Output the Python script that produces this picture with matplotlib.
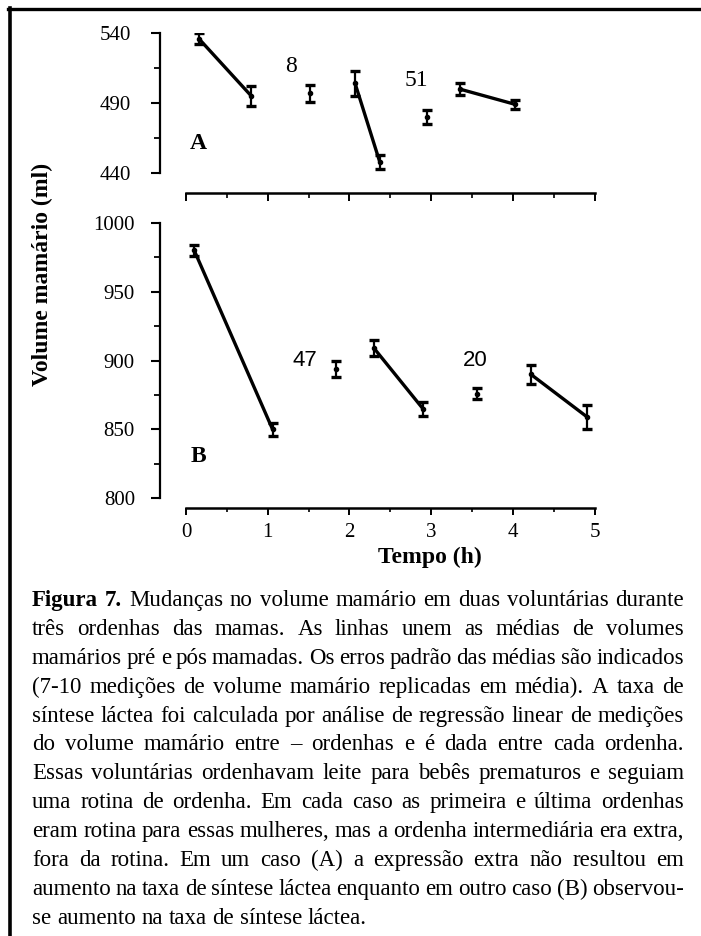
import matplotlib
matplotlib.use("Agg")
import matplotlib.pyplot as plt
from matplotlib.lines import Line2D

# volunteer A: mean breast volume (ml) and standard error at each measurement time (h)
time_a = [0.16, 0.80, 1.52, 2.07, 2.37, 2.95, 3.35, 4.03]
vol_a = [536, 495, 497, 504, 448, 480, 500, 489]
err_a = [4, 7, 6, 9, 5, 5, 4, 3]

# volunteer B
time_b = [0.10, 1.06, 1.84, 2.30, 2.90, 3.56, 4.22, 4.91]
vol_b = [980, 850, 894, 909, 865, 876, 890, 859]
err_b = [4, 5, 6, 6, 5, 4, 7, 9]

# pre/post feed pairs joined by a line
feeds = [(0, 1), (3, 4), (6, 7)]

# y ticks for each panel
yticks_a = [440, 490, 540]
yminor_a = [465, 515]
yticks_b = [800, 850, 900, 950, 1000]
yminor_b = [825, 875, 925, 975]
xticks = [0, 1, 2, 3, 4, 5]
xminor = [0.5, 1.5, 2.5, 3.5, 4.5]

# synthesis rate between expressions (ml/h) and where it is written
rates_a = ["8", "51"]
rate_pos_a = [(1.29, 516), (2.82, 506)]
rates_b = ["47", "20"]
rate_pos_b = [(1.46, 900), (3.54, 900)]

caption = [
    "Figura 7. Mudanças no volume mamário em duas voluntárias durante",
    "três ordenhas das mamas. As linhas unem as médias de volumes",
    "mamários pré e pós mamadas. Os erros padrão das médias são indicados",
    "(7-10 medições de volume mamário replicadas em média). A taxa de",
    "síntese láctea foi calculada por análise de regressão linear de medições",
    "do volume mamário entre – ordenhas e é dada entre cada ordenha.",
    "Essas voluntárias ordenhavam leite para bebês prematuros e seguiam",
    "uma rotina de ordenha. Em cada caso as primeira e última ordenhas",
    "eram rotina para essas mulheres, mas a ordenha intermediária era extra,",
    "fora da rotina. Em um caso (A) a expressão extra não resultou em",
    "aumento na taxa de síntese láctea enquanto em outro caso (B) observou-",
    "se aumento na taxa de síntese láctea.",
]

SERIF = "Liberation Serif"
SANS = "Liberation Sans"
W, H = 701, 936

fig = plt.figure(figsize=(W / 100, H / 100), dpi=100)
fig.patch.set_facecolor("white")


def box(left, top, right, bottom):
    return [left / W, 1 - bottom / H, (right - left) / W, (bottom - top) / H]


def fpos(x, y):
    return x / W, 1 - y / H


ax_a = fig.add_axes(box(160, 33.3, 598.6, 172.7))
ax_b = fig.add_axes(box(160, 222.7, 598.6, 498.3))


def style_axis(ax, ylim, major, minor, drop, ypad):
    ax.set_xlim(-0.318, 5.05)
    ax.set_ylim(*ylim)
    ax.patch.set_visible(False)
    for s in ("top", "right"):
        ax.spines[s].set_visible(False)
    ax.spines["left"].set_linewidth(1.6)
    ax.spines["bottom"].set_linewidth(1.8)
    ax.spines["bottom"].set_position(("outward", drop))
    ax.spines["bottom"].set_bounds(0, 5)
    ax.set_yticks(major)
    ax.set_yticks(minor, minor=True)
    ax.set_xticks(xticks)
    ax.set_xticks(xminor, minor=True)
    ax.tick_params(axis="y", which="major", direction="out", length=6.5, width=1.5,
                   pad=ypad, labelsize=15)
    ax.tick_params(axis="y", which="minor", direction="out", length=4, width=1.3)
    for lab in ax.get_yticklabels():
        lab.set_fontfamily(SERIF)


def draw_series(ax, t, v, e):
    ax.errorbar(t, v, yerr=e, fmt="o", ms=3, color="k", ecolor="k",
                elinewidth=1.6, capsize=3.4, capthick=2.4)
    for i, j in feeds:
        ax.plot([t[i], t[j]], [v[i], v[j]], color="k", lw=2.4, solid_capstyle="round")


# panel A
style_axis(ax_a, (440, 540), yticks_a, yminor_a, 14.4, 14.5)
ax_a.tick_params(axis="x", which="major", direction="out", length=5.8, width=1.4,
                 labelbottom=False)
ax_a.tick_params(axis="x", which="minor", direction="out", length=3.6, width=1.2)
draw_series(ax_a, time_a, vol_a, err_a)
for txt, (x, y) in zip(rates_a, rate_pos_a):
    ax_a.text(x, y, txt, ha="center", va="center", fontsize=17, family=SERIF)
ax_a.text(0.15, 461, "A", ha="center", va="center", fontsize=17, family=SERIF,
          fontweight="bold")

# panel B
style_axis(ax_b, (800, 1000), yticks_b, yminor_b, 7.2, 11.5)
ax_b.tick_params(axis="x", which="major", direction="out", length=4.8, width=1.4,
                 pad=6, labelsize=15)
ax_b.tick_params(axis="x", which="minor", direction="out", length=3, width=1.2)
for lab in ax_b.get_xticklabels():
    lab.set_fontfamily(SERIF)
draw_series(ax_b, time_b, vol_b, err_b)
for txt, (x, y) in zip(rates_b, rate_pos_b):
    ax_b.text(x, y, txt, ha="center", va="center", fontsize=16, family=SANS)
ax_b.text(0.15, 830, "B", ha="center", va="center", fontsize=17, family=SERIF,
          fontweight="bold")

# shared axis titles
fig.text(*fpos(42, 274), "Volume mamário (ml)", rotation=90, ha="center", va="center",
         fontsize=17, family=SERIF, fontweight="bold")
fig.text(*fpos(430, 557), "Tempo (h)", ha="center", va="center",
         fontsize=17, family=SERIF, fontweight="bold")

# frame lines (top and left only)
fig.add_artist(Line2D([10 / W, 10 / W], [0, 1 - 8 / H], transform=fig.transFigure,
                      color="k", lw=2.6))
fig.add_artist(Line2D([8 / W, 1], [1 - 8.5 / H, 1 - 8.5 / H], transform=fig.transFigure,
                      color="k", lw=2.4))

# justified caption, word by word
left, right = 32, 684
base0, step = 606, 28.9
renderer = fig.canvas.get_renderer()


def build(fs):
    rows = []
    for k, line in enumerate(caption):
        words = line.split()
        row = []
        for n, w in enumerate(words):
            bold = k == 0 and n < 2
            t = fig.text(0, 0, w, fontsize=fs, family=SERIF,
                         fontweight="bold" if bold else "normal", va="baseline", ha="left")
            row.append((t, t.get_window_extent(renderer).width))
        rows.append(row)
    return rows


fs = 16.5
while True:
    rows = build(fs)
    space = 0.2 * fs * 100 / 72
    widest = max(sum(w for _, w in row) + space * (len(row) - 1) for row in rows)
    if widest <= right - left or fs < 10:
        break
    for row in rows:
        for t, _ in row:
            t.remove()
    fs -= 0.25

for k, row in enumerate(rows):
    total = sum(w for _, w in row)
    if k < len(rows) - 1:
        gap = (right - left - total) / (len(row) - 1)
    else:
        gap = 0.25 * fs * 100 / 72
    x = left
    y = base0 + k * step
    for t, w in row:
        t.set_position(fpos(x, y))
        x += w + gap

fig.savefig("out.png", dpi=100, facecolor="white")
